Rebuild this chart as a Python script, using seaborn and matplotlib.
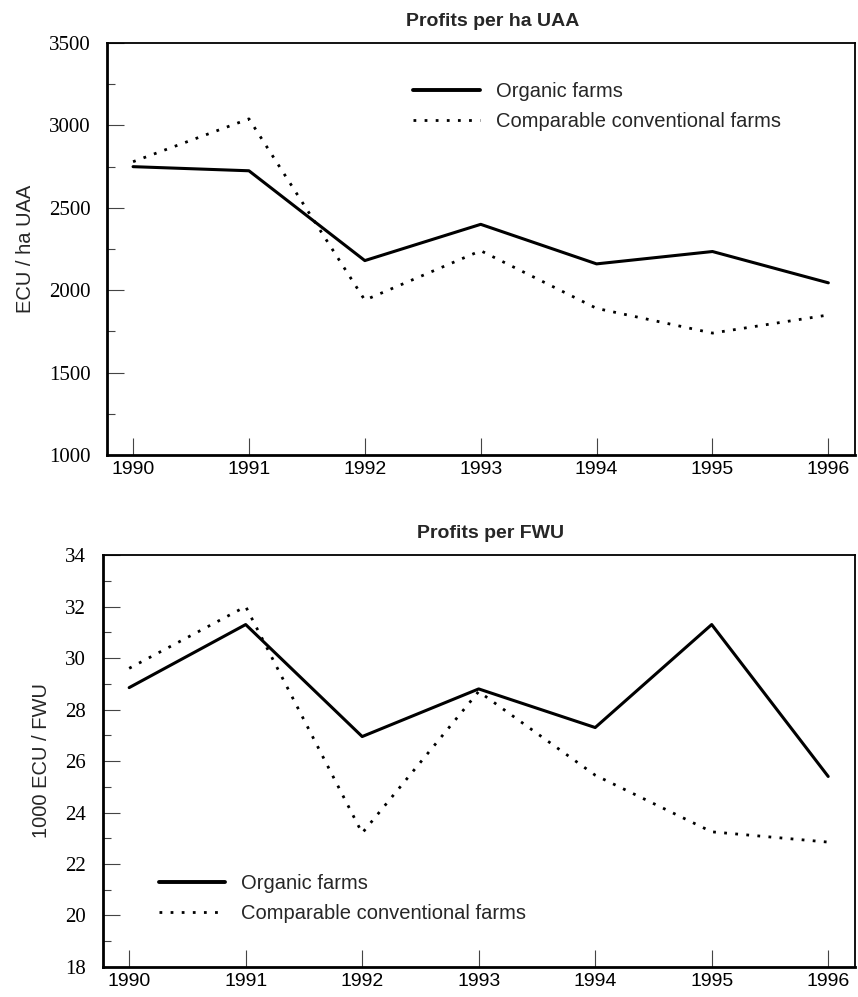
"""
Profits of organic vs comparable conventional farms, 1990-1996.
"""
import matplotlib.pyplot as plt
from matplotlib.ticker import MultipleLocator
from matplotlib.lines import Line2D
import seaborn as sns
import pandas as pd

sns.set_theme(style='ticks')

YEARS = [1990, 1991, 1992, 1993, 1994, 1995, 1996]

# Profits per ha UAA (ECU)
ORGANIC_HA = [2750, 2725, 2180, 2400, 2160, 2235, 2045]
CONVENTIONAL_HA = [2780, 3040, 1940, 2240, 1890, 1740, 1850]

# Profits per FWU (1000 ECU)
ORGANIC_FWU = [28.85, 31.3, 26.95, 28.8, 27.3, 31.3, 25.4]
CONVENTIONAL_FWU = [29.6, 32.0, 23.2, 28.7, 25.45, 23.25, 22.85]

LABELS = ['Organic farms', 'Comparable conventional farms']

SANS = ['Liberation Sans', 'DejaVu Sans']
SERIF = ['Liberation Serif', 'DejaVu Serif']
DOT = (0, (1, 3))


def style_axes(ax, ylim, major, minor):
    ax.set_xlim(1989.775, 1996.23)
    ax.set_ylim(*ylim)
    ax.set_xticks(YEARS)
    ax.yaxis.set_major_locator(MultipleLocator(major))
    ax.yaxis.set_minor_locator(MultipleLocator(minor))
    for side in ['left', 'bottom']:
        ax.spines[side].set_linewidth(2.0)
    for side in ['top', 'right']:
        ax.spines[side].set_linewidth(1.3)
    for s in ax.spines.values():
        s.set_color('black')
    ax.tick_params(axis='x', direction='in', length=12, width=0.8, color='#444444', pad=4)
    ax.tick_params(axis='y', which='major', direction='in', length=12, width=0.8, color='#444444', pad=12)
    ax.tick_params(axis='y', which='minor', direction='in', length=6, width=0.8, color='#444444')
    for lab in ax.get_xticklabels():
        lab.set_fontfamily(SANS)
        lab.set_fontsize(14)
        lab.set_color('black')
    for lab in ax.get_yticklabels():
        lab.set_fontfamily(SERIF)
        lab.set_fontsize(15)
        lab.set_color('black')
    ax.grid(False)


def draw_panel(ax, organic, conventional):
    df = pd.DataFrame({'year': YEARS, 'organic': organic, 'conventional': conventional})
    sns.lineplot(data=df, x='year', y='organic', ax=ax, color='black', linewidth=2.2)
    sns.lineplot(data=df, x='year', y='conventional', ax=ax, color='black',
                 linewidth=2.0, linestyle=DOT)
    ax.set_xlabel('')


def add_legend(ax, loc):
    handles = [Line2D([], [], color='black', linewidth=2.8),
               Line2D([], [], color='black', linewidth=2.0, linestyle=DOT)]
    leg = ax.legend(handles, LABELS, loc='upper left', bbox_to_anchor=loc, frameon=False,
                    handlelength=3.3, handletextpad=0.8, labelspacing=0.55,
                    prop={'family': SANS, 'size': 14.5})
    return leg


fig = plt.figure(figsize=(8.58, 9.97), dpi=100)
ax1 = fig.add_axes([0.1247, 0.5436, 0.8718, 0.4132])
ax2 = fig.add_axes([0.1200, 0.0301, 0.8765, 0.4132])

# 1. Per ha UAA
draw_panel(ax1, ORGANIC_HA, CONVENTIONAL_HA)
style_axes(ax1, (1000, 3500), 500, 250)
ax1.set_ylabel('ECU / ha UAA', fontfamily=SANS, fontsize=14.5, labelpad=10)
ax1.set_title('Profits per ha UAA', fontfamily=SANS, fontsize=14, fontweight='bold',
              pad=12, x=0.516)
add_legend(ax1, (0.385, 0.95))

# 2. Per FWU
draw_panel(ax2, ORGANIC_FWU, CONVENTIONAL_FWU)
style_axes(ax2, (18, 34), 2, 1)
ax2.set_ylabel('1000 ECU / FWU', fontfamily=SANS, fontsize=14.5, labelpad=10)
ax2.set_title('Profits per FWU', fontfamily=SANS, fontsize=14, fontweight='bold',
              pad=12, x=0.516)
add_legend(ax2, (0.05, 0.27))

fig.savefig('out.png', dpi=100, facecolor='white')
